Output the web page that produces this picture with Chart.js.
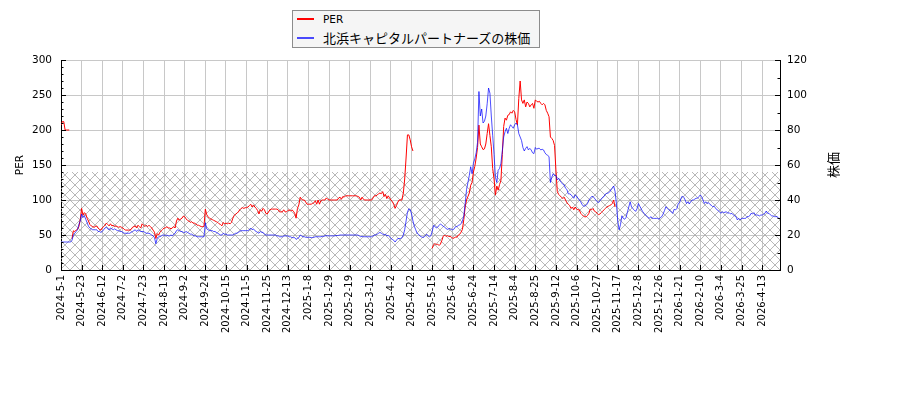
<!DOCTYPE html>
<html lang="ja">
<head>
<meta charset="utf-8">
<title>北浜キャピタルパートナーズ PERと株価</title>
<script src="https://cdn.jsdelivr.net/npm/chart.js@4.4.1/dist/chart.umd.min.js"></script>
<style>
  body { margin: 0; background: #fff; }
  #wrap { position: relative; width: 900px; height: 400px; }
  #legend {
    position: absolute; left: 292px; top: 10px; width: 246px; height: 36px;
    border: 1px solid #8c8c8c; background: #f5f5f5; color: #000;
    font-family: "DejaVu Sans", "Noto Sans CJK JP", sans-serif; font-size: 10.5px;
  }
  #legend .row { display: flex; align-items: center; height: 19px; }
  #legend .row:first-child { margin-top: -2px; }
  #legend .swatch { display: inline-block; width: 17px; height: 2px; margin: 0 9px 0 4px; }
  #legend .cjk { font-family: "Noto Sans CJK JP", sans-serif; font-size: 13px; }
</style>
</head>
<body>
<div id="wrap">
  <canvas id="chart" width="900" height="400"></canvas>
  <div id="legend"></div>
</div>
<script>
// x axis is trading-day index, one labelled tick every 15 days
const tickEvery = 15;
const tickLabels = ['2024-5-1', '2024-5-23', '2024-6-12', '2024-7-2', '2024-7-23', '2024-8-13', '2024-9-2',
  '2024-9-24', '2024-10-15', '2024-11-5', '2024-11-25', '2024-12-13', '2025-1-8', '2025-1-29', '2025-2-19',
  '2025-3-12', '2025-4-2', '2025-4-22', '2025-5-15', '2025-6-4', '2025-6-24', '2025-7-14', '2025-8-4',
  '2025-8-25', '2025-9-12', '2025-10-6', '2025-10-27', '2025-11-17', '2025-12-8', '2025-12-26', '2026-1-21',
  '2026-2-10', '2026-3-4', '2026-3-25', '2026-4-13'];

// PER (left axis), null = no value
const perValues = [
  207, 212, 212, 200, 200, 200, 200, null, 45, 56, 55, 57, 58, 62, 72,
  88, 78, 82, 80, 74, 70, 65, 63, 62, 61, 62, 63, 60, 58, 57,
  60, 62, 64, 67, 65, 63, 66, 63, 64, 62, 63, 62, 61, 62, 61,
  60, 58, 57, 57, 57, 57, 58, 61, 62, 63, 60, 64, 62, 60, 66,
  64, 62, 64, 62, 64, 62, 60, 57, 54, 45, 52, 50, 54, 56, 58,
  60, 60, 62, 60, 60, 59, 60, 62, 60, 70, 74, 71, 73, 74, 77,
  76, 73, 71, 70, 68, 69, 67, 67, 66, 64, 64, 63, 62, 62, 62,
  87, 79, 76, 74, 73, 72, 71, 70, 69, 68, 66, 65, 63, 68, 66,
  67, 66, 67, 66, 68, 74, 78, 80, 81, 83, 86, 88, 89, 88, 89,
  89, 90, 92, 94, 90, 93, 90, 88, 85, 80, 86, 84, 88, 86, 81,
  80, 83, 86, 87, 87, 87, 87, 87, 86, 83, 83, 83, 86, 83, 83,
  85, 86, 84, 86, 84, 81, 74, 88, 93, 104, 101, 100, 100, 97, 94,
  94, 94, 94, 95, 96, 99, 94, 100, 94, 99, 100, 100, 100, 103, 101,
  100, 100, 100, 100, 100, 100, 100, 103, 104, 101, 105, 104, 106, 106, 106,
  106, 106, 106, 106, 106, 106, 105, 104, 100, 104, 101, 100, 100, 100, 100,
  100, 100, 103, 106, 106, 107, 109, 110, 109, 112, 105, 108, 102, 106, 103,
  100, 98, 94, 88, 92, 97, 100, 100, 100, 110, 130, 160, 193, 193, 186,
  176, 170, null, null, null, null, null, null, null, null, null, null, null, null, null,
  31, 36, 38, 36, 37, 35, 37, 42, 48, 50, 48, 49, 48, 48, 47,
  45, 46, 47, 47, 50, 51, 54, 58, 72, 90, 100, 105, 110, 121, 125,
  140, 148, 160, 175, 207, 180, 176, 172, 173, 180, 195, 209, 192, 176, 145,
  130, 107, 120, 114, 122, 128, 165, 205, 217, 214, 221, 222, 226, 224, 228,
  226, 215, 207, 245, 270, 243, 238, 243, 233, 240, 238, 233, 236, 238, 231,
  243, 241, 240, 241, 238, 236, 238, 236, 228, 224, 219, 190, 188, 185, 178,
  143, 112, 108, 106, 104, 102, 104, 100, 96, 94, 92, 88, 90, 86, 90,
  87, 86, 86, 81, 79, 77, 76, 76, 78, 81, 87, 86, 88, 84, 83,
  81, 79, 80, 82, 84, 86, 88, 90, 91, 92, 93, 95, 100, 90
];

// share price (right axis)
const priceValues = [
  16, 16, 16, 16, 16, 16, 16, 16, 17, 20, 21, 22, 23, 26, 28,
  32, 30, 31, 29, 27, 25, 24, 23.5, 23, 23, 23, 23, 22, 22, 21.5,
  22, 23, 24, 24.5, 23.5, 23, 24, 23.5, 23, 23.5, 23, 22.5, 22.5, 22, 22,
  21.5, 21, 21, 21, 21, 21, 21.5, 22, 22.5, 23, 22, 23, 22.5, 22, 22,
  22, 21.5, 21, 21, 21, 20.5, 20, 19.5, 18.5, 15, 18, 19, 19, 19.5, 20,
  20, 19.5, 20, 19.5, 19.5, 20, 19.5, 20.5, 21, 22.5, 23, 22.5, 22, 22, 21.5,
  21.5, 22, 21.5, 21, 20.5, 20.5, 20, 19.5, 19.5, 19, 19, 19, 19, 19, 19,
  27, 23.5, 23, 22.5, 22.5, 22.5, 22, 22, 21.5, 21, 20.5, 20, 20, 21, 20.5,
  20.5, 20, 20, 20, 20, 20, 20.5, 21, 21, 21.5, 22, 22.5, 22.5, 22.5, 22.5,
  22.5, 22.5, 23, 24, 23, 23.5, 22.5, 22, 21.5, 21, 22, 21.5, 21.5, 20.5, 20,
  20, 20, 20, 20, 20, 20, 20, 19.5, 19.5, 19, 19, 19, 19.5, 19.5, 19.5,
  19.5, 19, 19, 18.5, 18.5, 18.5, 17.5, 18, 18.5, 20, 19.5, 19, 19, 18.7, 18.7,
  18.7, 18.7, 18.5, 18.5, 18.7, 19, 19, 19, 19, 19, 19.2, 19.2, 19.5, 19.7, 19.5,
  19.5, 19.5, 19.5, 19.5, 19.5, 19.7, 19.7, 19.8, 20, 20, 20, 20, 20, 20, 20,
  20, 20, 20, 20, 20, 20, 20, 19.5, 19, 19.3, 19, 19, 19, 19, 19,
  19, 19, 19.5, 20, 20, 20.5, 21, 21.5, 21, 20.5, 20, 20.5, 19.5, 19.8, 19,
  18, 17.5, 17, 16, 17, 18, 18, 18, 18.5, 20, 23, 28, 33, 35, 34.5,
  32, 28, 25, 23, 21, 20.5, 19.5, 19, 18.7, 18.7, 19.5, 20.5, 19.5, 19, 19.5,
  22, 25.5, 25, 24, 24.5, 25.5, 26.3, 25.7, 25, 24.5, 23.8, 23.2, 23.5, 23.8, 23,
  23, 23.5, 24.8, 24.8, 25.5, 25.7, 26.5, 28, 31, 38, 46, 50, 54, 59, 55,
  61, 63.5, 67, 73, 102, 88, 92, 84, 85, 88, 95, 104, 101, 88, 77,
  66, 53, 50, 57, 58, 61, 68, 76, 79, 81, 78, 81, 83, 82, 81,
  83, 84, 83, 78, 76, 74, 70, 68, 69.5, 70.5, 68.6, 69.5, 68.6, 67, 66.5,
  70, 69, 69.5, 69.5, 68.6, 69, 68.6, 67, 66, 65.5, 64.8, 50, 53, 55, 54,
  54, 51.5, 52.4, 51, 50, 49, 48.6, 46.7, 46, 43.5, 43.5, 43, 42, 41, 42.9,
  42.3, 41, 40, 39, 37.5, 36.5, 36.5, 37, 38, 40, 41, 42, 42, 41, 40,
  39, 38.5, 39.5, 40.5, 41.5, 42, 43.4, 43.8, 44, 44.5, 45.7, 46.7, 48, 45, 38,
  28, 23, 26, 31, 29.5, 29, 30, 33, 36, 39, 36, 35, 34.3, 33.5, 35,
  38, 36.5, 35, 33.5, 32.5, 31.5, 31, 30, 29.5, 30.5, 29.5, 29.5, 29.5, 29.5, 29.5,
  29, 30, 30.5, 32, 34, 36.2, 35.2, 34.5, 34, 33, 32.4, 34.7, 34.3, 35.2, 38,
  38.5, 41, 42.3, 41.5, 40, 38, 39, 37.7, 39, 40, 40, 40.5, 41, 41, 41.9,
  42.9, 41.9, 40, 38, 39, 38, 38.5, 37.5, 37, 36.2, 36.5, 35.5, 34.5, 34, 33.3,
  32.4, 33.3, 32.8, 33, 33.3, 32.4, 32.8, 32, 32.4, 31.5, 31, 30.5, 28.6, 29.5, 28.6,
  29.5, 29.5, 29.5, 29.5, 30.5, 30.5, 31, 32.4, 32, 32.8, 31.5, 31.4, 31.4, 30.9, 31.4,
  31.4, 31.8, 32.4, 33.7, 32.4, 32.4, 31.5, 30.9, 30.9, 30.5, 30.5, 30.5, 29.5, 29.5
];

// PER band that is cross-hatched (0 .. 140)
const hatchTopPER = 140;
const rightTitle = '株価';

const toPoints = vals => vals.map((v, i) => ({ x: i, y: v }));

let hatchPattern = null;
function getHatch(ctx) {
  if (hatchPattern) return hatchPattern;
  const c = document.createElement('canvas');
  c.width = 10;
  c.height = 10;
  const g = c.getContext('2d');
  g.strokeStyle = '#a6a6a6';
  g.lineWidth = 0.8;
  g.beginPath();
  for (const k of [-10, 0, 10]) {
    g.moveTo(k, 0); g.lineTo(k + 10, 10);
    g.moveTo(k + 10, 0); g.lineTo(k, 10);
  }
  g.stroke();
  hatchPattern = ctx.createPattern(c, 'repeat');
  return hatchPattern;
}

const hatchZone = {
  id: 'hatchZone',
  beforeDatasetsDraw(chart) {
    const { ctx, chartArea: a, scales: { y } } = chart;
    const top = y.getPixelForValue(hatchTopPER);
    ctx.save();
    ctx.fillStyle = getHatch(ctx);
    ctx.fillRect(a.left, top, a.right - a.left, a.bottom - top);
    ctx.restore();
  }
};

// inward ticks, major and minor
const axisTicks = {
  id: 'axisTicks',
  afterDraw(chart) {
    const { ctx, chartArea: a, scales: { x, y, y1 } } = chart;
    ctx.save();
    ctx.strokeStyle = '#000';
    ctx.lineWidth = 1;
    ctx.beginPath();
    for (let v = 0; v <= y.max; v += 10) {
      const py = Math.round(y.getPixelForValue(v)) + 0.5;
      ctx.moveTo(a.left, py);
      ctx.lineTo(a.left + (v % 50 ? 2.5 : 5), py);
    }
    for (let v = 0; v <= y1.max; v += 10) {
      const py = Math.round(y1.getPixelForValue(v)) + 0.5;
      ctx.moveTo(a.right, py);
      ctx.lineTo(a.right - (v % 20 ? 2.5 : 5), py);
    }
    x.ticks.forEach(t => {
      const px = Math.round(x.getPixelForValue(t.value)) + 0.5;
      ctx.moveTo(px, a.bottom);
      ctx.lineTo(px, a.bottom - 5);
    });
    ctx.stroke();
    ctx.restore();
  }
};

// right axis title, reading bottom to top like the left one
const rightTitlePlugin = {
  id: 'rightTitle',
  afterDraw(chart) {
    const { ctx, chartArea: a, scales: { y1 } } = chart;
    ctx.save();
    ctx.translate(y1.right - 67, (a.top + a.bottom) / 2);
    ctx.rotate(-Math.PI / 2);
    ctx.font = '13px "Noto Sans CJK JP", sans-serif';
    ctx.fillStyle = '#000';
    ctx.textAlign = 'center';
    ctx.textBaseline = 'middle';
    ctx.fillText(rightTitle, 0, 0);
    ctx.restore();
  }
};

// boxed legend with the two entries stacked
const htmlLegend = {
  id: 'htmlLegend',
  afterUpdate(chart) {
    const box = document.getElementById('legend');
    box.innerHTML = '';
    chart.data.datasets.forEach(ds => {
      const row = document.createElement('div');
      row.className = 'row';
      const sw = document.createElement('span');
      sw.className = 'swatch';
      sw.style.background = ds.borderColor;
      row.appendChild(sw);
      const text = document.createElement('span');
      ds.label.split(/([\u3000-\u9fff\uff00-\uffef]+)/).forEach(part => {
        if (!part) return;
        const s = document.createElement('span');
        if (/[\u3000-\u9fff]/.test(part)) s.className = 'cjk';
        s.textContent = part;
        text.appendChild(s);
      });
      row.appendChild(text);
      box.appendChild(row);
    });
  }
};

Chart.defaults.font.family = '"DejaVu Sans", "Noto Sans CJK JP", sans-serif';
Chart.defaults.font.size = 10.5;
Chart.defaults.color = '#000';

new Chart('chart', {
  type: 'line',
  data: {
    datasets: [{
      label: 'PER',
      data: toPoints(perValues),
      borderColor: '#ff0000',
      yAxisID: 'y',
      order: 1
    }, {
      label: '北浜キャピタルパートナーズの株価',
      data: toPoints(priceValues),
      borderColor: 'rgba(0, 0, 255, 0.7)',
      yAxisID: 'y1',
      order: 0
    }]
  },
  options: {
    responsive: false,
    animation: false,
    layout: { padding: { top: 60 } },
    elements: {
      point: { radius: 0 },
      line: { borderWidth: 1, tension: 0 }
    },
    plugins: {
      legend: { display: false },
      tooltip: { enabled: false }
    },
    scales: {
      x: {
        type: 'linear',
        min: 0,
        max: priceValues.length - 1,
        afterFit: s => { s.height = 130; },
        grid: { color: '#c8c8c8', drawTicks: false },
        border: { color: '#000' },
        ticks: {
          stepSize: tickEvery,
          includeBounds: false,
          autoSkip: false,
          minRotation: 90,
          maxRotation: 90,
          padding: 5,
          font: { size: 10 },
          callback: v => tickLabels[Math.round(v / tickEvery)]
        }
      },
      y: {
        position: 'left',
        min: 0,
        max: 300,
        afterFit: s => { s.width = 61; },
        grid: { color: '#c8c8c8', drawTicks: false },
        border: { color: '#000' },
        ticks: { stepSize: 50, padding: 9 },
        title: { display: true, text: 'PER', padding: { top: 13.7, bottom: 0 } }
      },
      y1: {
        position: 'right',
        min: 0,
        max: 120,
        afterFit: s => { s.width = 120; },
        grid: { drawOnChartArea: false, drawTicks: false },
        border: { color: '#000' },
        ticks: { stepSize: 20, padding: 7 }
      }
    }
  },
  plugins: [hatchZone, axisTicks, rightTitlePlugin, htmlLegend]
});
</script>
</body>
</html>
